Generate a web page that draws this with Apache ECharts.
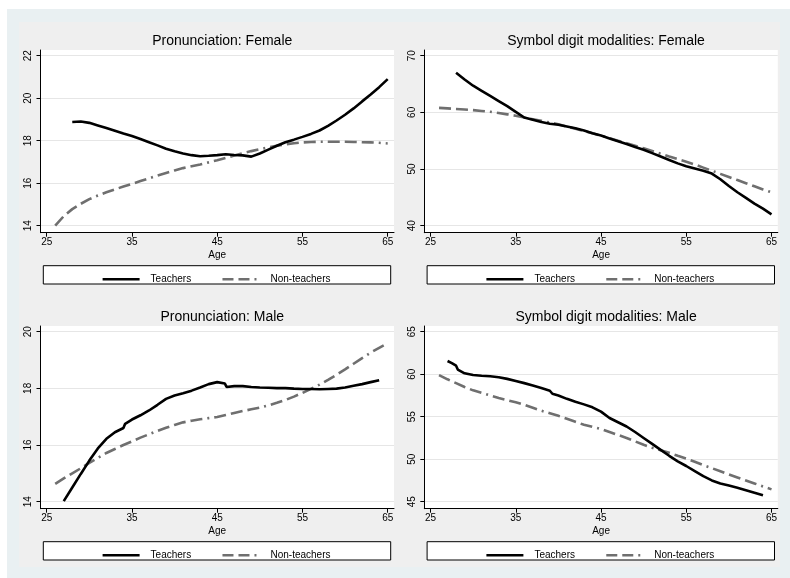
<!DOCTYPE html>
<html><head><meta charset="utf-8">
<script src="https://cdn.jsdelivr.net/npm/echarts@6/dist/echarts.min.js"></script>
<style>html,body{margin:0;padding:0;background:#fff}#c{width:790px;height:578px}</style>
</head><body><div id="c"></div>
<script>
// ---------- data ----------
const panelTitles = ['Pronunciation: Female', 'Symbol digit modalities: Female', 'Pronunciation: Male', 'Symbol digit modalities: Male'];
const seriesNames = ['Teachers', 'Non-teachers'];
const xAxisName = 'Age';
const xTicks = [25, 35, 45, 55, 65];
const yTicksPronFemale = [14, 16, 18, 20, 22];
const yTicksSdmFemale = [40, 50, 60, 70];
const yTicksPronMale = [14, 16, 18, 20];
const yTicksSdmMale = [45, 50, 55, 60, 65];

const ageTeachPronFemale = [28,29,30,31,32,33,34,35,36,37,38,39,40,41,42,43,44,45,46,47,48,49,50,51,52,53,54,55,56,57,58,59,60,61,62,63,64,65];
const teachPronFemale = [18.88,18.90,18.84,18.72,18.60,18.47,18.34,18.22,18.08,17.93,17.78,17.62,17.50,17.40,17.32,17.27,17.29,17.32,17.36,17.33,17.31,17.25,17.40,17.58,17.76,17.93,18.05,18.18,18.32,18.48,18.70,18.95,19.22,19.52,19.85,20.17,20.52,20.90];
const ageNonPronFemale = [26,27,28,29,30,31,32,33,34,35,36,37,38,39,40,41,42,43,44,45,46,47,48,49,50,51,52,53,54,55,56,57,58,59,60,61,62,63,64,65];
const nonPronFemale = [14.00,14.45,14.78,15.03,15.25,15.42,15.57,15.71,15.84,15.97,16.10,16.23,16.36,16.48,16.60,16.71,16.80,16.88,16.98,17.08,17.19,17.30,17.41,17.51,17.60,17.68,17.76,17.83,17.88,17.92,17.94,17.95,17.95,17.95,17.95,17.94,17.93,17.92,17.90,17.87];

const ageTeachSdmFemale = [28,29,30,31,32,33,34,35,36,37,38,39,40,41,42,43,44,45,46,47,48,49,50,51,52,53,54,55,56,57,58,59,60,61,62,63,64,65];
const teachSdmFemale = [67.0,65.8,64.7,63.8,62.9,62.0,61.1,60.1,59.1,58.7,58.3,58.0,57.8,57.5,57.2,56.8,56.3,55.9,55.4,54.9,54.4,53.9,53.4,52.8,52.2,51.6,51.0,50.5,50.1,49.7,49.2,48.2,47.0,45.9,44.9,43.9,43.0,42.0];
const ageNonSdmFemale = [26,27,28,29,30,31,32,33,34,35,36,37,38,39,40,41,42,43,44,45,46,47,48,49,50,51,52,53,54,55,56,57,58,59,60,61,62,63,64,65];
const nonSdmFemale = [60.8,60.7,60.6,60.5,60.4,60.25,60.1,59.9,59.65,59.4,59.1,58.8,58.5,58.2,57.9,57.5,57.1,56.7,56.3,55.9,55.45,55.0,54.55,54.1,53.65,53.2,52.7,52.2,51.75,51.3,50.8,50.25,49.7,49.15,48.6,48.05,47.5,46.95,46.4,45.9];

const ageTeachPronMale = [27,28,29,30,31,32,33,34,34.2,35,36,37,38,39,40,41,42,43,44,45,45.9,46.1,47,48,49,50,51,52,53,54,55,56,57,58,59,60,61,62,63,64];
const teachPronMale = [14.02,14.50,14.98,15.45,15.88,16.22,16.45,16.60,16.75,16.90,17.05,17.22,17.42,17.63,17.75,17.83,17.92,18.03,18.15,18.22,18.17,18.05,18.08,18.08,18.05,18.03,18.02,18.01,18.01,17.99,17.98,17.98,17.97,17.98,17.99,18.03,18.09,18.15,18.22,18.29];
const ageNonPronMale = [26,27,28,29,30,31,32,33,34,35,36,37,38,39,40,41,42,43,44,45,46,47,48,49,50,51,52,53,54,55,56,57,58,59,60,61,62,63,64,65];
const nonPronMale = [14.63,14.82,15.00,15.18,15.37,15.55,15.72,15.86,16.00,16.13,16.26,16.38,16.50,16.61,16.71,16.80,16.86,16.91,16.95,16.99,17.06,17.13,17.20,17.26,17.32,17.40,17.49,17.59,17.71,17.84,17.98,18.13,18.30,18.48,18.67,18.87,19.07,19.26,19.43,19.59];

const ageTeachSdmMale = [27,27.5,28,28.2,29,30,31,32,33,34,35,36,37,38,39,39.3,40,41,42,43,44,45,46,47,48,49,50,51,52,53,54,55,56,57,58,59,60,61,62,63,64];
const teachSdmMale = [61.55,61.3,61.0,60.55,60.1,59.9,59.82,59.75,59.65,59.45,59.2,58.95,58.68,58.38,58.05,57.7,57.5,57.1,56.75,56.45,56.1,55.6,54.85,54.35,53.85,53.2,52.5,51.8,51.1,50.4,49.75,49.2,48.6,48.0,47.5,47.15,46.9,46.65,46.35,46.05,45.75];
const ageNonSdmMale = [26,27,28,29,30,31,32,33,34,35,36,37,38,39,40,41,42,43,44,45,46,47,48,49,50,51,52,53,54,55,56,57,58,59,60,61,62,63,64,65];
const nonSdmMale = [59.9,59.4,58.95,58.5,58.1,57.8,57.5,57.2,56.95,56.7,56.4,56.05,55.7,55.4,55.1,54.75,54.4,54.05,53.8,53.55,53.2,52.85,52.5,52.1,51.7,51.35,51.05,50.75,50.4,50.08,49.7,49.3,48.95,48.58,48.2,47.85,47.5,47.15,46.8,46.45];

// ---------- layout / style ----------
const FONT = "'Liberation Sans', Arial, sans-serif";
const colLeft = [40.5, 424.3];
const rowTop = [50, 326];
const plotW = 353.5, plotH = 182.7;
const tickTopPad = 5.7, tickBotPad = 7.0;
const tickLeftPad = 6.2, tickRightPad = 6.3;
const TEACH_COLOR = '#000', NON_COLOR = '#6f6f6f';
const NON_DASH = [12, 5, 12, 5, 12, 5, 2, 5];
const NON_DASH_LEGEND = [11, 5, 11, 5, 2, 5];

const panels = [
  {title: panelTitles[0], yTicks: yTicksPronFemale, t: [ageTeachPronFemale, teachPronFemale], n: [ageNonPronFemale, nonPronFemale], col: 0, row: 0},
  {title: panelTitles[1], yTicks: yTicksSdmFemale, t: [ageTeachSdmFemale, teachSdmFemale], n: [ageNonSdmFemale, nonSdmFemale], col: 1, row: 0},
  {title: panelTitles[2], yTicks: yTicksPronMale, t: [ageTeachPronMale, teachPronMale], n: [ageNonPronMale, nonPronMale], col: 0, row: 1},
  {title: panelTitles[3], yTicks: yTicksSdmMale, t: [ageTeachSdmMale, teachSdmMale], n: [ageNonSdmMale, nonSdmMale], col: 1, row: 1}
];

const zip = (a, b) => a.map((v, i) => [v, b[i]]);

const grids = [], xAxes = [], yAxes = [], series = [], titles = [], legends = [], graphics = [];

graphics.push({type: 'rect', z: -20, silent: true, shape: {x: 7, y: 9, width: 783, height: 569}, style: {fill: '#e9f0f2'}});
graphics.push({type: 'rect', z: -19, silent: true, shape: {x: 19, y: 22, width: 761, height: 545}, style: {fill: '#efefef'}});

panels.forEach((p, i) => {
  const left = colLeft[p.col], top = rowTop[p.row];
  grids.push({left: left, top: top, width: plotW, height: plotH, show: true, backgroundColor: '#fff', borderWidth: 0, containLabel: false});
  const xSpan = xTicks[xTicks.length - 1] - xTicks[0];
  const xPx = plotW - tickLeftPad - tickRightPad;
  const yT = p.yTicks, ySpan = yT[yT.length - 1] - yT[0];
  const yPx = plotH - tickTopPad - tickBotPad;
  xAxes.push({
    type: 'value', gridIndex: i,
    min: xTicks[0] - tickLeftPad / xPx * xSpan,
    max: xTicks[xTicks.length - 1] + tickRightPad / xPx * xSpan,
    name: xAxisName, nameLocation: 'middle', nameGap: 18,
    nameTextStyle: {fontSize: 10, color: '#000', fontFamily: FONT},
    axisLine: {show: true, onZero: false, lineStyle: {color: '#000', width: 1}},
    axisTick: {show: true, length: 4, lineStyle: {color: '#000'}, customValues: xTicks},
    axisLabel: {fontSize: 10, color: '#000', fontFamily: FONT, margin: 5, customValues: xTicks},
    splitLine: {show: false}
  });
  yAxes.push({
    type: 'value', gridIndex: i,
    min: yT[0] - tickBotPad / yPx * ySpan,
    max: yT[yT.length - 1] + tickTopPad / yPx * ySpan,
    axisLine: {show: true, onZero: false, lineStyle: {color: '#000', width: 1}},
    axisTick: {show: true, length: 4, lineStyle: {color: '#000'}, customValues: yT},
    axisLabel: {fontSize: 10, color: '#000', fontFamily: FONT, rotate: 90, margin: 7, customValues: yT},
    splitLine: {show: true, lineStyle: {color: '#e6e6e6', width: 1}}
  });
  series.push({
    name: seriesNames[0], type: 'line', xAxisIndex: i, yAxisIndex: i,
    data: zip(p.t[0], p.t[1]), symbol: 'none', showSymbol: false,
    lineStyle: {color: TEACH_COLOR, width: 2.6}, itemStyle: {color: TEACH_COLOR}, z: 3
  });
  series.push({
    name: seriesNames[1], type: 'line', xAxisIndex: i, yAxisIndex: i,
    data: zip(p.n[0], p.n[1]), symbol: 'none', showSymbol: false,
    lineStyle: {color: NON_COLOR, width: 2.6, type: NON_DASH}, itemStyle: {color: NON_COLOR}, z: 2
  });
  titles.push({
    text: p.title, left: left + plotW / 2, top: top - 21, textAlign: 'center',
    textStyle: {fontSize: 14, fontWeight: 'normal', color: '#000', fontFamily: FONT}
  });
  const boxLeft = left + 2.8, boxTop = top + 215.7;
  graphics.push({type: 'rect', z: 1, silent: true, shape: {x: boxLeft, y: boxTop, width: 347.4, height: 18.3},
    style: {fill: '#fff', stroke: '#000', lineWidth: 1}});
  legends.push({
    data: [
      {name: seriesNames[0], lineStyle: {color: TEACH_COLOR, width: 2.6}},
      {name: seriesNames[1], lineStyle: {color: NON_COLOR, width: 2.6, type: NON_DASH_LEGEND}}
    ],
    left: boxLeft + 53, top: boxTop + 3.5, orient: 'horizontal',
    itemWidth: 37, itemHeight: 10, itemGap: 30, selectedMode: false,
    itemStyle: {opacity: 0},
    textStyle: {fontSize: 10, color: '#000', fontFamily: FONT, padding: [0, 0, 0, 6]}
  });
});

const chart = echarts.init(document.getElementById('c'), null, {renderer: 'canvas'});
chart.setOption({
  animation: false,
  backgroundColor: '#fff',
  title: titles, legend: legends, grid: grids, xAxis: xAxes, yAxis: yAxes, series: series,
  graphic: {elements: graphics}
});
</script></body></html>
